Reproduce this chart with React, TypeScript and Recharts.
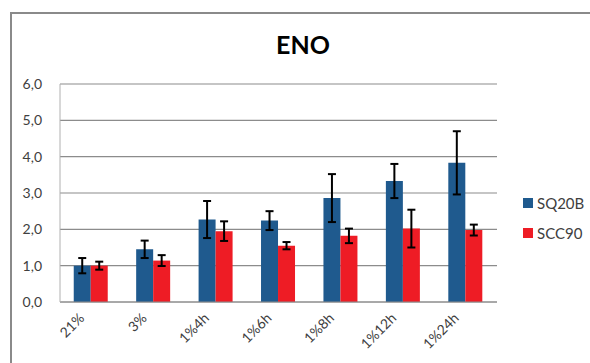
import { BarChart, Bar, XAxis, YAxis, CartesianGrid, ErrorBar } from 'recharts';

const categories = ['21%', '3%', '1%4h', '1%6h', '1%8h', '1%12h', '1%24h'];
const sq20b = [1.0, 1.45, 2.27, 2.24, 2.86, 3.33, 3.83];
const sq20bErr = [0.21, 0.24, 0.51, 0.26, 0.66, 0.47, 0.87];
const scc90 = [1.0, 1.14, 1.95, 1.55, 1.82, 2.02, 1.98];
const scc90Err = [0.11, 0.15, 0.27, 0.1, 0.2, 0.52, 0.15];
const yTicks = [0, 1, 2, 3, 4, 5, 6];

const data = categories.map((name, i) => ({
  name,
  SQ20B: sq20b[i],
  SQ20BErr: sq20bErr[i],
  SCC90: scc90[i],
  SCC90Err: scc90Err[i],
}));

const font = 'Lato, "Open Sans", sans-serif';
const BLUE = '#1f5a8e';
const RED = '#ee1c25';

const XTick = ({ x, y, payload }: any) => {
  const ax = x - 6;
  const ay = y + 9;
  return (
    <text
      x={ax}
      y={ay}
      transform={`rotate(-45, ${ax}, ${ay})`}
      textAnchor="end"
      fontSize={14}
      fill="#404040"
      fontFamily={font}
    >
      {payload.value}
    </text>
  );
};

export default function App() {
  return (
    <div
      style={{
        position: 'fixed',
        left: 0,
        top: 0,
        width: 590,
        height: 363,
        overflow: 'hidden',
        background: '#fff',
        fontFamily: font,
      }}
    >
      <div
        style={{
          position: 'absolute',
          left: 10,
          top: 12,
          width: 700,
          height: 500,
          borderLeft: '2px solid #8a8a8a',
          borderTop: '2px solid #8a8a8a',
        }}
      />
      <div
        style={{
          position: 'absolute',
          left: 0,
          width: 606,
          top: 29,
          textAlign: 'center',
          fontSize: 25,
          fontWeight: 'bold',
          color: '#000',
        }}
      >
        ENO
      </div>
      <div style={{ position: 'absolute', left: 0, top: 0 }}>
        <BarChart
          width={590}
          height={363}
          data={data}
          margin={{ top: 84, right: 93, bottom: 0, left: 0 }}
          barCategoryGap="22%"
          barGap={0}
        >
          <CartesianGrid vertical={false} stroke="#8c8c8c" strokeWidth={1.2} />
          <XAxis
            dataKey="name"
            height={61}
            tick={<XTick />}
            tickLine={false}
            axisLine={{ stroke: '#8c8c8c' }}
            interval={0}
          />
          <YAxis
            width={60}
            domain={[0, 6]}
            ticks={yTicks}
            tickFormatter={(v: number) => v.toFixed(1).replace('.', ',')}
            tick={{ fontSize: 14, fill: '#404040', fontFamily: font }}
            tickLine={false}
            tickMargin={12}
            axisLine={{ stroke: '#b0b0b0' }}
          />
          <Bar dataKey="SQ20B" fill={BLUE} isAnimationActive={false}>
            <ErrorBar dataKey="SQ20BErr" width={4} stroke="#000" strokeWidth={2} />
          </Bar>
          <Bar dataKey="SCC90" fill={RED} isAnimationActive={false}>
            <ErrorBar dataKey="SCC90Err" width={4} stroke="#000" strokeWidth={2} />
          </Bar>
        </BarChart>
      </div>
      <div
        style={{
          position: 'absolute',
          left: 523,
          top: 188,
          fontSize: 15,
          color: '#404040',
          lineHeight: '30px',
        }}
      >
        {[
          { label: 'SQ20B', color: BLUE },
          { label: 'SCC90', color: RED },
        ].map((item) => (
          <div key={item.label} style={{ display: 'flex', alignItems: 'center' }}>
            <span
              style={{ width: 10, height: 10, background: item.color, marginRight: 4, display: 'inline-block' }}
            />
            {item.label}
          </div>
        ))}
      </div>
    </div>
  );
}
